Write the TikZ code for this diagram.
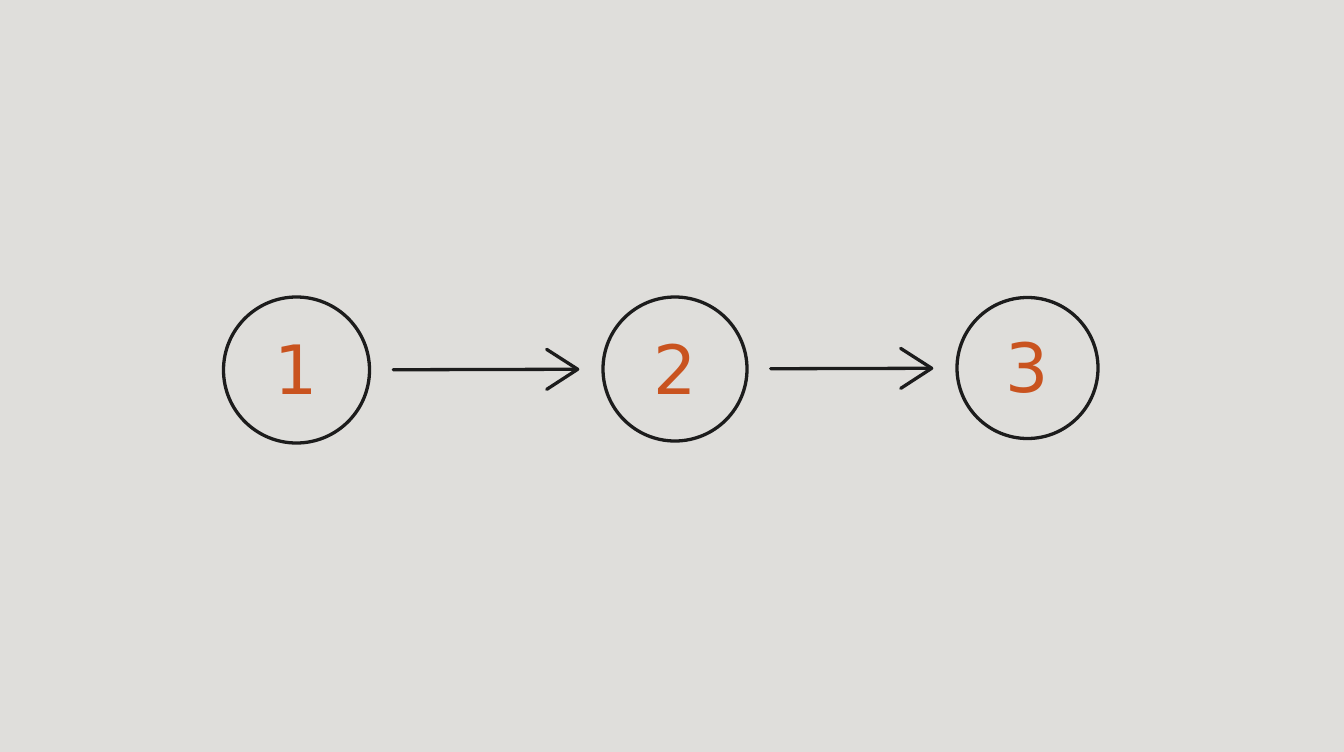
\documentclass[tikz,border=0pt]{standalone}
\usepackage{fontspec}
\setmainfont{DejaVu Sans}
\usetikzlibrary{arrows.meta}
\definecolor{paper}{HTML}{DFDEDB}
\definecolor{ink}{HTML}{1C1C1C}
\definecolor{digit}{HTML}{C9531F}
\tikzset{
  numcircle/.style={circle, draw=ink, line width=3.3pt, inner sep=0pt, font=\fontsize{68}{68}\selectfont, text=digit},
  flow/.style={draw=ink, line width=3.3pt, line cap=round, -{Straight Barb[length=31pt, width=40pt, line width=3.3pt, round]}}
}
\begin{document}
\begin{tikzpicture}[x=1pt, y=-1pt]
\fill[paper] (0,0) rectangle (1344,752);
\useasboundingbox (0,0) rectangle (1344,752);
\node[numcircle, minimum size=146pt] (n1) at (296.5,370) {1};
\node[numcircle, minimum size=144pt] (n2) at (675,369) {2};
\node[numcircle, minimum size=141pt] (n3) at (1027.5,368) {3};
\draw[flow, shorten <=22pt, shorten >=22pt] (n1) -- (n2);
\draw[flow, shorten <=22pt, shorten >=22pt] (n2) -- (n3);
\end{tikzpicture}
\end{document}
